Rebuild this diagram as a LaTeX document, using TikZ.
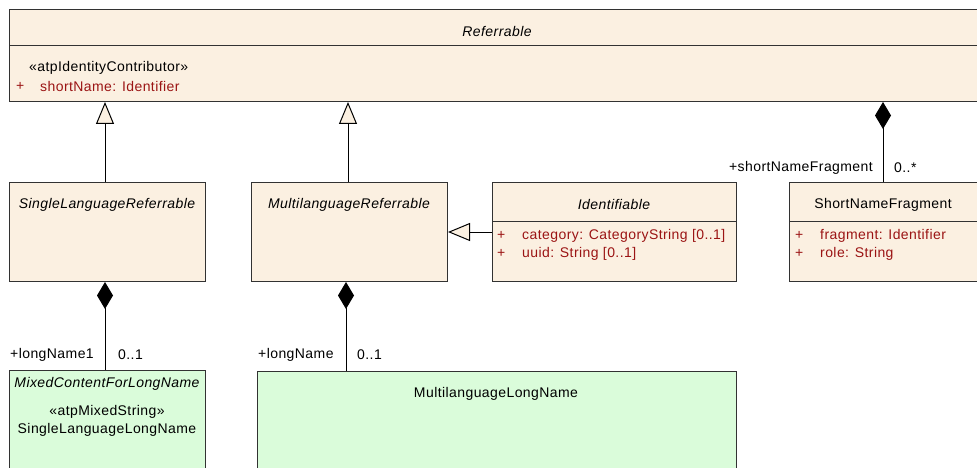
\documentclass[tikz,border=0pt]{standalone}
\usepackage{fontspec}
\setmainfont{Liberation Sans}[LetterSpace=3]
\usetikzlibrary{arrows.meta}
\definecolor{clsfill}{RGB}{251,240,225}
\definecolor{grnfill}{RGB}{218,252,218}
\definecolor{attr}{RGB}{155,20,20}
\definecolor{border}{RGB}{50,50,50}
\tikzset{
  cls/.style={draw=border, line width=1pt, fill=clsfill, rectangle, inner sep=0pt, anchor=north west},
  grn/.style={draw=border, line width=1pt, fill=grnfill, rectangle, inner sep=0pt, anchor=north west},
  txt/.style={inner sep=0pt, yshift=-1.5pt, font=\fontsize{14}{16}\selectfont},
  ital/.style={txt, font=\fontsize{14}{16}\selectfont\itshape},
  atr/.style={txt, text=attr, anchor=west},
  sep/.style={draw=border, line width=1pt},
  gen/.style={line width=1pt, -{Triangle[length=22pt,width=18pt,fill=clsfill,line width=1pt]}},
  comp/.style={line width=1pt, {Diamond[length=27pt,width=16pt,fill=black]}-},
}
\begin{document}
\begin{tikzpicture}[x=1pt,y=-1pt]
\useasboundingbox (0,0) rectangle (977,468);
% Referrable
\node[cls, minimum width=976pt, minimum height=92pt] (ref) at (9,9) {};
\draw[sep] (9,46) -- (985,46);
\node[ital] (reft) at (497,30) {Referrable};
\node[txt, anchor=west] (refst) at (29,66) {«atpIdentityContributor»};
\node[atr] (refp) at (16,85) {+};
\node[atr] (refa) at (40,85) {shortName: Identifier};
% SingleLanguageReferrable
\node[cls, minimum width=196pt, minimum height=99pt] (slr) at (9,182) {};
\node[ital] (slrt) at (107,203) {SingleLanguageReferrable};
% MultilanguageReferrable
\node[cls, minimum width=196pt, minimum height=99pt] (mlr) at (251,182) {};
\node[ital] (mlrt) at (349,203) {MultilanguageReferrable};
% Identifiable
\node[cls, minimum width=244pt, minimum height=99pt] (idf) at (492,182) {};
\draw[sep] (idf.west |- 0,221) -- (idf.east |- 0,221);
\node[ital] (idft) at (614,203) {Identifiable};
\node[atr] (idfp1) at (497,234) {+};
\node[atr] (idfa1) at (522,234) {category: CategoryString [0..1]};
\node[atr] (idfp2) at (497,252) {+};
\node[atr] (idfa2) at (522,252) {uuid: String [0..1]};
% ShortNameFragment
\node[cls, minimum width=192pt, minimum height=99pt] (snf) at (789,182) {};
\draw[sep] (snf.west |- 0,221) -- (snf.east |- 0,221);
\node[txt] (snft) at (883,203) {ShortNameFragment};
\node[atr] (snfp1) at (795,234) {+};
\node[atr] (snfa1) at (820,234) {fragment: Identifier};
\node[atr] (snfp2) at (795,252) {+};
\node[atr] (snfa2) at (820,252) {role: String};
% MixedContentForLongName
\node[grn, minimum width=196pt, minimum height=120pt] (mc) at (9,370) {};
\node[ital] (mct) at (107,382) {MixedContentForLongName};
\node[txt] (mcs) at (107,410) {«atpMixedString»};
\node[txt] (mcn) at (107,428) {SingleLanguageLongName};
% MultilanguageLongName
\node[grn, minimum width=479pt, minimum height=120pt] (mll) at (257,371) {};
\node[txt] (mllt) at (496,392) {MultilanguageLongName};
% connector columns
\coordinate (c1) at (105,0);
\coordinate (c2) at (348,0);
\coordinate (c3) at (346,0);
\coordinate (c4) at (883,0);
% generalizations
\draw[gen] (slr.north -| c1) -- (ref.south -| c1);
\draw[gen] (mlr.north -| c2) -- (ref.south -| c2);
\draw[gen] (idf.west |- 0,232) -- (mlr.east |- 0,232);
% compositions
\draw[comp] (ref.south -| c4) -- (snf.north -| c4);
\draw[comp] (slr.south -| c1) -- (mc.north -| c1);
\draw[comp] (mlr.south -| c3) -- (mll.north -| c3);
% role labels
\node[txt, anchor=east] (l1) at (873,166) {+shortNameFragment};
\node[txt, anchor=west] (m1) at (894,166) {0..*};
\node[txt, anchor=west] (l2) at (10,353) {+longName1};
\node[txt, anchor=west] (m2) at (118,353) {0..1};
\node[txt, anchor=west] (l3) at (258,353) {+longName};
\node[txt, anchor=west] (m3) at (357,353) {0..1};
\end{tikzpicture}
\end{document}
